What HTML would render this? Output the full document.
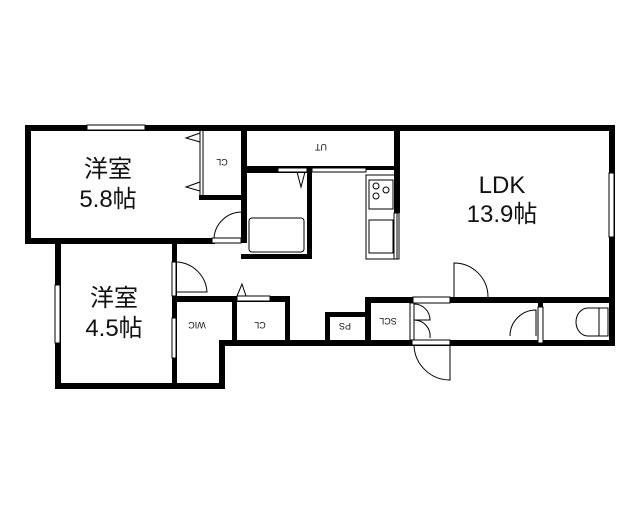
<!DOCTYPE html>
<html><head><meta charset="utf-8"><style>
html,body{margin:0;padding:0;background:#fff;width:640px;height:512px;overflow:hidden}
text{font-family:"Liberation Sans","Noto Sans CJK JP",sans-serif;fill:#111}
</style></head><body>
<svg width="640" height="512" viewBox="0 0 640 512" xmlns="http://www.w3.org/2000/svg">
<g fill="#000">
<rect x="25" y="125" width="590" height="6"/>
<rect x="25" y="125" width="6" height="118"/>
<rect x="25" y="238" width="190" height="6"/>
<rect x="55" y="238" width="6" height="150"/>
<rect x="55" y="383" width="170" height="6"/>
<rect x="172" y="238" width="5" height="150"/>
<rect x="219" y="340" width="6" height="49"/>
<rect x="219" y="340" width="390" height="6"/>
<rect x="609" y="125" width="6" height="221"/>
<rect x="199" y="195" width="46" height="5"/>
<rect x="241" y="125" width="6" height="118"/>
<rect x="241" y="168" width="70" height="5"/>
<rect x="307" y="168" width="5" height="91"/>
<rect x="241" y="254" width="71" height="5"/>
<rect x="241" y="166" width="157" height="4"/>
<rect x="394" y="125" width="6" height="88"/>
<rect x="172" y="296" width="117" height="6"/>
<rect x="232" y="296" width="5" height="48"/>
<rect x="285" y="296" width="5" height="48"/>
<rect x="325" y="312" width="42" height="5"/>
<rect x="325" y="312" width="5" height="32"/>
<rect x="365" y="297" width="6" height="48"/>
<rect x="365" y="297" width="48" height="6"/>
<rect x="450" y="297" width="162" height="6"/>
<rect x="538" y="297" width="5" height="48"/>
</g>
<g fill="#fff" stroke="#000" stroke-width="1">
<rect x="87" y="125" width="58" height="5"/>
<rect x="55" y="285" width="5" height="58"/>
<rect x="609" y="173" width="5" height="64"/>
<rect x="172" y="262" width="4" height="34"/>
<rect x="172" y="318" width="4" height="40"/>
<rect x="212" y="238" width="29" height="5"/>
<rect x="237" y="296" width="33" height="5"/>
<rect x="278" y="168" width="29" height="4"/>
<rect x="312" y="168" width="54" height="4"/>
<rect x="394" y="213" width="5" height="46"/>
<rect x="413" y="297" width="37" height="6"/>
<rect x="412" y="340" width="38" height="5"/>
<rect x="538" y="307" width="5" height="36"/>
<rect x="410" y="303" width="4" height="37"/>
</g>
<g fill="none" stroke="#000" stroke-width="1">
<line x1="200" y1="131" x2="200" y2="196"/>
<line x1="203" y1="131" x2="203" y2="196"/>
<path d="M200 133 L186 138 L200 142"/>
<path d="M200 182 L186 187 L200 191"/>
<path d="M214 238 A28 28 0 0 1 242 212 L242 238"/>
<rect x="249" y="218" width="55" height="34" rx="3"/>
<path d="M297 172 L301 187 L305 172"/>
<path d="M177 262 A32 32 0 0 1 207 292 L177 292"/>
<path d="M237 296 L242 284 L246 296"/>
<rect x="366" y="175" width="31" height="84"/>
<rect x="369" y="180" width="24" height="29"/>
<circle cx="376" cy="186" r="3"/><circle cx="386" cy="190" r="3"/><circle cx="376" cy="196" r="3"/>
<rect x="369" y="220" width="24" height="33"/>
<path d="M454 297 L454 263 A34 34 0 0 1 488 297"/>
<path d="M414 304 A16 16 0 0 1 430 320 L414 320 A16 16 0 0 1 430 338"/>
<path d="M450 345 L450 380 A36 36 0 0 1 414 345"/>
<path d="M510 336 A26 26 0 0 1 536 310 L536 336"/>
<path d="M608 308 L588 308 A12 14 0 0 0 588 336 L608 336 Z"/>
<line x1="599" y1="308" x2="599" y2="336"/>
</g>
<g text-anchor="middle">
<text x="108" y="177" font-size="24">洋室</text>
<text x="108" y="207" font-size="24">5.8帖</text>
<text x="114" y="306" font-size="24">洋室</text>
<text x="114" y="336" font-size="24">4.5帖</text>
<text x="502" y="193" font-size="24">LDK</text>
<text x="502" y="222" font-size="24">13.9帖</text>
<text transform="translate(222,159) rotate(180)" font-size="9">CL</text>
<text transform="translate(321,144) rotate(180)" font-size="9">UT</text>
<text transform="translate(197,322) rotate(180)" font-size="9">WIC</text>
<text transform="translate(260,322) rotate(180)" font-size="9">CL</text>
<text transform="translate(345,323) rotate(180)" font-size="9">PS</text>
<text transform="translate(388,318) rotate(180)" font-size="9">SCL</text>
</g>
</svg>
</body></html>
